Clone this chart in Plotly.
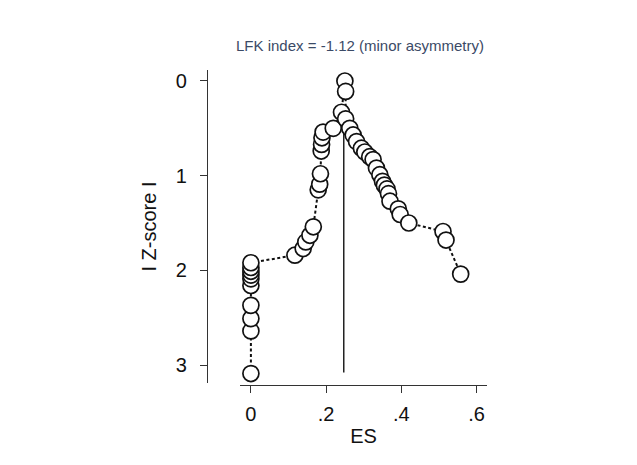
import plotly.graph_objects as go

# Doi plot: effect size (ES) against |Z-score| of the ranked studies
es = [0, 0, 0, 0, 0, 0, 0, 0, 0, 0,
      0.117, 0.139, 0.146, 0.157, 0.166, 0.179, 0.183, 0.185, 0.187, 0.188,
      0.189, 0.192, 0.219, 0.241, 0.250,
      0.252, 0.252, 0.263, 0.272, 0.281, 0.294, 0.303, 0.316, 0.325, 0.334,
      0.343, 0.350, 0.355, 0.362, 0.366, 0.370, 0.392, 0.397, 0.420, 0.511,
      0.519, 0.558]
zscore = [3.09, 2.64, 2.51, 2.37, 2.16, 2.09, 2.05, 2.01, 1.97, 1.92,
          1.84, 1.77, 1.70, 1.63, 1.54, 1.15, 1.09, 0.98, 0.74, 0.67,
          0.60, 0.54, 0.50, 0.33, 0.00,
          0.11, 0.40, 0.50, 0.57, 0.64, 0.71, 0.75, 0.80, 0.83, 0.92,
          0.99, 1.06, 1.10, 1.14, 1.19, 1.27, 1.35, 1.41, 1.50, 1.59,
          1.68, 2.04]

# reference line at the effect size of the apex study
ref_es = [0.247, 0.247]
ref_z = [0.45, 3.08]

x_tickvals = [0, 0.2, 0.4, 0.6]
x_ticktext = ["0", ".2", ".4", ".6"]
y_tickvals = [0, 1, 2, 3]
y_ticktext = ["0", "1", "2", "3"]

title_text = "LFK index = -1.12 (minor asymmetry)"

W, H = 637, 465
FONT = "Liberation Sans, Arial, Helvetica, sans-serif"

fig = go.Figure()
fig.add_trace(go.Scatter(
    x=ref_es, y=ref_z, mode="lines",
    line=dict(color="#222222", width=1.5),
    hoverinfo="skip", showlegend=False,
))
fig.add_trace(go.Scatter(
    x=es, y=zscore, mode="lines+markers",
    line=dict(color="#111111", width=2, dash="3px,2.5px"),
    marker=dict(size=16, color="white", line=dict(color="#111111", width=1.7)),
    showlegend=False,
))

axis_common = dict(
    showline=True, linecolor="#333333", linewidth=1.4,
    ticks="outside", ticklen=7, tickwidth=1.4, tickcolor="#333333",
    showgrid=False, zeroline=False,
    tickfont=dict(family=FONT, size=20, color="#111111"),
    title_font=dict(family=FONT, size=20, color="#111111"),
)

fig.update_layout(
    width=W, height=H,
    margin=dict(l=0, r=0, t=0, b=0),
    paper_bgcolor="white", plot_bgcolor="white",
    xaxis=dict(
        axis_common,
        domain=[240 / W, 487 / W],
        range=[-0.029, 0.628],
        anchor="free", position=1 - 385 / H,
        tickvals=x_tickvals, ticktext=x_ticktext,
        ticklabelstandoff=4,
        title=dict(text="ES", standoff=4),
    ),
    yaxis=dict(
        axis_common,
        domain=[1 - 383 / H, 1 - 70 / H],
        range=[3.19, -0.116],
        anchor="free", position=207 / W,
        tickvals=y_tickvals, ticktext=y_ticktext,
        ticklabelstandoff=9,
        title=dict(text="I Z-score I", standoff=12),
    ),
    annotations=[dict(
        text=title_text, xref="paper", yref="paper",
        x=360 / W, y=1 - 45 / H, xanchor="center", yanchor="middle",
        showarrow=False,
        font=dict(family=FONT, size=15, color="#3b4a66"),
    )],
)

fig.write_html("out.html")
